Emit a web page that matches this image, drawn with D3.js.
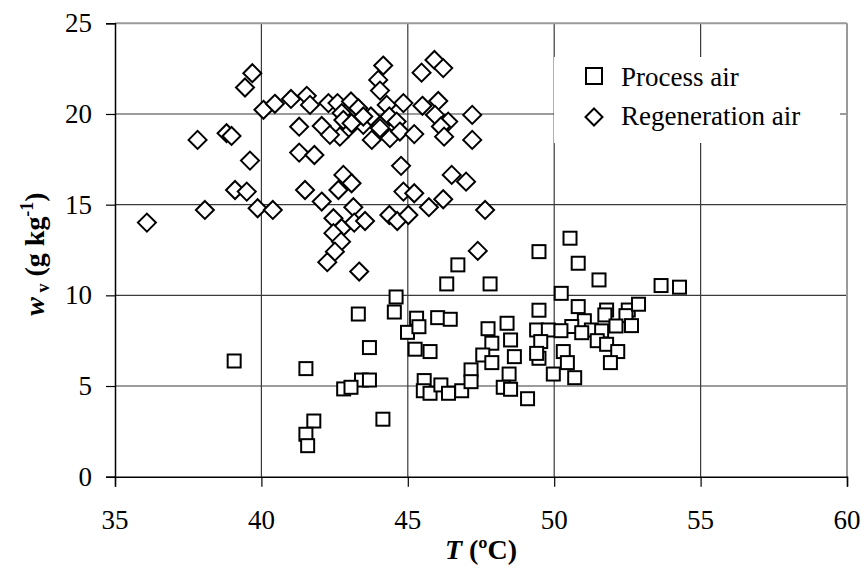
<!DOCTYPE html>
<html><head><meta charset="utf-8"><script src="https://cdn.jsdelivr.net/npm/d3@7"></script>
</head>
<body style="margin:0">
<svg id="fig" width="866" height="569"></svg>
<script>
// ---- data ----
const xTicks = [35, 40, 45, 50, 55, 60];
const yTicks = [0, 5, 10, 15, 20, 25];
const seriesNames = ["Process air", "Regeneration air"];

const processT = [39.07,41.52,41.79,41.52,41.58,43.31,44.60,44.54,43.69,43.42,43.69,42.81,43.06,44.15,44.99,
  49.48,46.71,46.33,47.81,49.48,45.30,45.38,46.02,46.45,45.25,45.76,47.74,48.39,47.87,48.51,47.56,48.64,47.87,47.16,
  49.40,49.80,49.54,49.48,49.40,45.56,45.53,45.76,46.13,46.39,46.84,47.16,48.46,48.26,48.51,49.09,49.97,
  50.54,50.82,51.53,53.65,54.28,50.24,50.82,51.79,51.73,52.53,52.45,52.88,52.64,52.11,51.03,50.60,51.27,50.94,
  51.62,50.23,51.47,51.79,52.17,51.92,50.31,50.45,50.70];
const processW = [6.38,5.96,3.07,2.34,1.71,8.97,9.91,9.08,7.12,5.33,5.33,4.84,4.93,3.17,7.96,
  12.41,11.68,10.63,10.63,9.18,8.74,8.27,8.77,8.68,7.03,6.90,8.16,8.46,7.36,7.54,6.71,6.62,6.29,5.89,
  8.09,8.09,7.45,6.53,6.80,5.30,4.74,4.60,5.06,4.60,4.74,5.24,5.66,4.93,4.82,4.30,5.66,
  13.15,11.77,10.85,10.54,10.45,10.11,9.38,9.19,8.92,9.19,8.88,9.51,8.33,8.31,8.60,8.28,8.09,7.94,
  8.04,8.05,7.50,7.30,6.90,6.29,6.90,6.29,5.46];

const regenT = [39.69,39.44,40.07,40.46,41.01,41.55,41.66,42.29,37.82,38.81,38.98,39.61,41.29,42.06,41.29,41.81,
  39.10,39.50,41.49,36.09,38.07,39.87,40.39,42.06,43.14,42.46,42.74,43.17,43.54,42.46,42.72,42.51,42.25,43.34,
  44.37,44.64,45.02,44.16,43.99,44.05,45.47,45.91,46.21,42.60,43.06,43.31,42.74,42.97,42.68,42.34,43.48,43.74,
  43.77,44.05,44.28,44.37,44.62,44.39,44.85,44.73,45.22,45.50,46.04,45.93,46.38,46.13,46.24,47.20,47.20,
  44.77,46.50,46.99,42.80,43.08,44.85,45.22,46.21,47.64,47.39,45.72,42.80,43.08,42.63,43.48];
const regenW = [22.25,21.46,20.23,20.56,20.83,21.00,20.50,20.60,18.57,18.94,18.79,17.43,19.30,19.34,17.87,17.74,
  15.81,15.72,15.81,14.01,14.71,14.80,14.71,15.17,14.86,14.25,13.70,14.01,14.10,13.43,12.96,12.41,11.83,11.31,
  14.43,14.10,14.43,22.67,21.88,21.29,22.28,22.98,22.53,20.60,20.69,20.32,20.05,19.22,18.75,18.85,19.40,19.86,
  18.57,19.22,20.50,19.86,19.58,18.67,20.60,19.03,18.89,20.45,20.72,19.95,19.58,19.31,18.75,19.95,18.57,
  17.14,16.64,16.27,16.64,16.18,15.72,15.63,15.30,14.71,12.45,14.86,19.67,19.49,15.81,19.86];

// ---- layout ----
const svg = d3.select("#fig");
const x = d3.scaleLinear().domain([35, 60]).range([115, 847]);
const y = d3.scaleLinear().domain([0, 25]).range([476.7, 23.3]);
const FS = 27;
const serif = () => '"Liberation Serif"';

// gridlines
const grid = svg.append("g");
grid.selectAll("line.h").data(yTicks.filter(d => d > 0 && d < 25)).join("line")
  .attr("x1", x(35)).attr("x2", x(60))
  .attr("y1", d => y(d)).attr("y2", d => y(d))
  .attr("stroke", "#3a3a3a").attr("stroke-width", 1.2);
grid.selectAll("line.v").data(xTicks.filter(d => d > 35 && d < 60)).join("line")
  .attr("y1", y(0)).attr("y2", y(25))
  .attr("x1", d => x(d)).attr("x2", d => x(d))
  .attr("stroke", "#3a3a3a").attr("stroke-width", 1.2);

// frame top/right (gray)
svg.append("line").attr("x1", x(35)).attr("x2", x(60)).attr("y1", y(25)).attr("y2", y(25))
  .attr("stroke", "#9a9a9a").attr("stroke-width", 2);
svg.append("line").attr("x1", x(60)).attr("x2", x(60)).attr("y1", y(25)).attr("y2", y(0))
  .attr("stroke", "#9a9a9a").attr("stroke-width", 2);

// axes
const gx = svg.append("g").attr("transform", `translate(0,${y(0)})`)
  .call(d3.axisBottom(x).tickValues(xTicks).tickSize(10).tickFormat(""));
const gy = svg.append("g").attr("transform", `translate(${x(35)},0)`)
  .call(d3.axisLeft(y).tickValues(yTicks).tickSize(9).tickFormat(""));
[gx, gy].forEach(g => {
  g.selectAll(".tick text").remove();
  g.select(".domain").attr("stroke", "#000").attr("stroke-width", 1.5);
  g.selectAll(".tick line").attr("stroke", "#000").attr("stroke-width", 1.2);
});

svg.selectAll("text.xlab").data(xTicks).join("text")
  .attr("class", "xlab")
  .attr("x", d => x(d)).attr("y", 529)
  .attr("text-anchor", "middle")
  .attr("font-size", FS).attr("font-family", serif)
  .text(d => d);
svg.selectAll("text.ylab").data(yTicks).join("text")
  .attr("class", "ylab")
  .attr("x", 92).attr("y", d => y(d) + 9)
  .attr("text-anchor", "end")
  .attr("font-size", FS).attr("font-family", serif)
  .text(d => d);

// legend background (covers gridlines)
svg.append("rect").attr("x", 554).attr("y", 57).attr("width", 286).attr("height", 86).attr("fill", "#fff");

// markers
const sq = 13;
function diamondPath(size) {
  const r = size / 2;
  return `M0,${-r}L${r},0L0,${r}L${-r},0Z`;
}
const procData = processT.map((t, i) => ({ t, w: processW[i] }));
const regData = regenT.map((t, i) => ({ t, w: regenW[i] }));

svg.append("g").selectAll("rect").data(procData).join("rect")
  .attr("x", d => x(d.t) - sq / 2).attr("y", d => y(d.w) - sq / 2)
  .attr("width", sq).attr("height", sq)
  .attr("fill", "#fff").attr("stroke", "#000").attr("stroke-width", 2);

svg.append("g").selectAll("path").data(regData).join("path")
  .attr("transform", d => `translate(${x(d.t)},${y(d.w)})`)
  .attr("d", diamondPath(18))
  .attr("fill", "#fff").attr("stroke", "#000").attr("stroke-width", 2);

// legend
svg.append("rect").attr("x", 586).attr("y", 68).attr("width", 16).attr("height", 16)
  .attr("fill", "#fff").attr("stroke", "#000").attr("stroke-width", 2);
svg.append("path").attr("transform", "translate(594,117)").attr("d", diamondPath(17))
  .attr("fill", "#fff").attr("stroke", "#000").attr("stroke-width", 2);
svg.selectAll("text.leg").data(seriesNames).join("text")
  .attr("class", "leg")
  .attr("x", 621).attr("y", (d, i) => 86 + i * 39)
  .attr("font-size", 27).attr("font-family", serif)
  .text(d => d);

// x axis title
const xt = svg.append("text").attr("x", 481).attr("y", 559).attr("text-anchor", "middle")
  .attr("font-family", serif).attr("font-size", 28).attr("font-weight", "bold");
xt.append("tspan").attr("font-style", "italic").text("T");
xt.append("tspan").text(" (ºC)");

// y axis title
const yt = svg.append("text").attr("transform", "translate(44,254) rotate(-90)")
  .attr("text-anchor", "middle").attr("font-family", serif).attr("font-size", 28).attr("font-weight", "bold");
yt.append("tspan").attr("font-style", "italic").text("w");
yt.append("tspan").attr("font-size", 18).attr("dy", 5).text(" v");
yt.append("tspan").attr("dy", -5).text(" (g kg");
yt.append("tspan").attr("font-size", 18).attr("dy", -11).text("-1");
yt.append("tspan").attr("dy", 11).text(")");
</script>
</body>
</html>
